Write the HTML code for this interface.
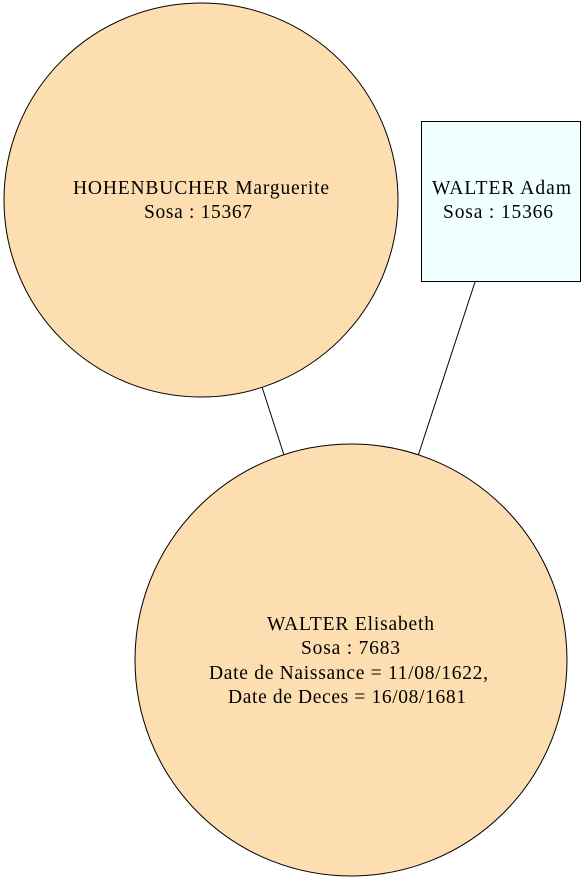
<!DOCTYPE html>
<html><head><meta charset="utf-8"><style>html,body{margin:0;padding:0;background:#fff}svg{display:block}</style></head>
<body>
<svg width="587" height="883" viewBox="0 0 587 883" xmlns="http://www.w3.org/2000/svg" font-family="Liberation Serif, serif" font-size="19.5" text-anchor="middle">
<line x1="262" y1="387" x2="284" y2="455" stroke="#000" stroke-width="1"/>
<line x1="475" y1="282" x2="418" y2="456" stroke="#000" stroke-width="1"/>
<circle cx="201" cy="200" r="197" fill="#fddeb0" stroke="#000" stroke-width="1"/>
<text x="201" y="194" textLength="256" lengthAdjust="spacing">HOHENBUCHER Marguerite</text>
<text x="198" y="218" textLength="108" lengthAdjust="spacing">Sosa : 15367</text>
<rect x="421.5" y="121.5" width="159" height="160" fill="#f0ffff" stroke="#000" stroke-width="1"/>
<text x="501.5" y="194" textLength="139" lengthAdjust="spacing">WALTER Adam</text>
<text x="498" y="218" textLength="110" lengthAdjust="spacing">Sosa : 15366</text>
<circle cx="351" cy="660" r="216" fill="#fddeb0" stroke="#000" stroke-width="1"/>
<text x="350.5" y="630" textLength="167" lengthAdjust="spacing">WALTER Elisabeth</text>
<text x="350.5" y="654" textLength="99" lengthAdjust="spacing">Sosa : 7683</text>
<text x="348.5" y="679" textLength="279" lengthAdjust="spacing">Date de Naissance = 11/08/1622,</text>
<text x="347" y="703" textLength="238" lengthAdjust="spacing">Date de Deces = 16/08/1681</text>
</svg>
</body></html>
